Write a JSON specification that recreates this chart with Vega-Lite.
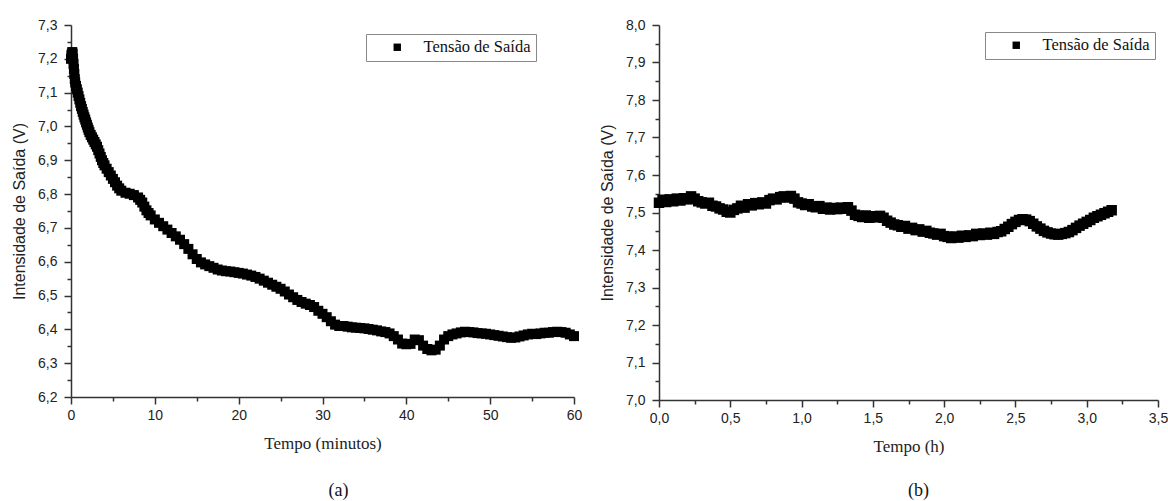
{
  "$schema": "https://vega.github.io/schema/vega-lite/v6.json",
  "padding": {"left": 11, "top": 18, "right": 0, "bottom": 0},
  "background": "white",
  "config": {
    "view": {"stroke": null},
    "axis": {
      "grid": false,
      "domainColor": "#333",
      "domainWidth": 1.5,
      "tickColor": "#333",
      "tickWidth": 1.5,
      "labelFont": "Liberation Sans",
      "labelFontSize": 14,
      "labelColor": "#222",
      "labelFlush": false,
      "labelOverlap": false,
      "labelPadding": 7
    },
    "axisY": {"titleFont": "Liberation Sans", "titleFontSize": 16, "titleFontWeight": "normal", "titleColor": "#222", "titlePadding": 10},
    "axisX": {"titleFont": "Liberation Serif", "titleFontSize": 17, "titleFontWeight": "normal", "titleColor": "#222", "titlePadding": 13, "labelPadding": 4},
    "legend": {
      "orient": "none",
      "title": null,
      "strokeColor": "#888",
      "strokeWidth": 1,
      "padding": 5,
      "symbolType": "square",
      "symbolSize": 55,
      "symbolOffset": 18,
      "labelOffset": 18,
      "labelFont": "Liberation Serif",
      "labelFontSize": 16.5,
      "labelColor": "#111",
      "labelExpr": "datum.label + '\u00a0\u00a0\u00a0'",
      "fillColor": "white"
    }
  },
  "datasets": {
    "a": [
      {"t": 0.0, "v": 7.2}, {"t": 0.05, "v": 7.21}, {"t": 0.1, "v": 7.215}, {"t": 0.15, "v": 7.22}, {"t": 0.2, "v": 7.215},
      {"t": 0.25, "v": 7.2}, {"t": 0.3, "v": 7.185}, {"t": 0.35, "v": 7.17}, {"t": 0.4, "v": 7.155}, {"t": 0.45, "v": 7.14},
      {"t": 0.5, "v": 7.13}, {"t": 0.6, "v": 7.12}, {"t": 0.7, "v": 7.11}, {"t": 0.8, "v": 7.1}, {"t": 0.9, "v": 7.09},
      {"t": 1.0, "v": 7.08}, {"t": 1.1, "v": 7.07}, {"t": 1.2, "v": 7.06}, {"t": 1.3, "v": 7.052}, {"t": 1.4, "v": 7.043},
      {"t": 1.5, "v": 7.035}, {"t": 1.6, "v": 7.027}, {"t": 1.7, "v": 7.02}, {"t": 1.8, "v": 7.012}, {"t": 1.9, "v": 7.005},
      {"t": 2.0, "v": 6.997}, {"t": 2.1, "v": 6.99}, {"t": 2.2, "v": 6.983}, {"t": 2.35, "v": 6.975}, {"t": 2.5, "v": 6.968},
      {"t": 2.65, "v": 6.961}, {"t": 2.8, "v": 6.954}, {"t": 2.95, "v": 6.947}, {"t": 3.1, "v": 6.94}, {"t": 3.25, "v": 6.93},
      {"t": 3.4, "v": 6.92}, {"t": 3.55, "v": 6.91}, {"t": 3.7, "v": 6.9}, {"t": 3.85, "v": 6.892}, {"t": 4.0, "v": 6.885},
      {"t": 4.25, "v": 6.875}, {"t": 4.5, "v": 6.865}, {"t": 4.75, "v": 6.855}, {"t": 5.0, "v": 6.845}, {"t": 5.25, "v": 6.835},
      {"t": 5.5, "v": 6.825}, {"t": 5.75, "v": 6.817}, {"t": 6.0, "v": 6.81}, {"t": 6.5, "v": 6.804}, {"t": 7.0, "v": 6.801},
      {"t": 7.5, "v": 6.797}, {"t": 8.0, "v": 6.79}, {"t": 8.25, "v": 6.783}, {"t": 8.5, "v": 6.775}, {"t": 8.75, "v": 6.763},
      {"t": 9.0, "v": 6.752}, {"t": 9.25, "v": 6.744}, {"t": 9.5, "v": 6.737}, {"t": 10.0, "v": 6.725}, {"t": 10.5, "v": 6.715},
      {"t": 11.0, "v": 6.705}, {"t": 11.5, "v": 6.695}, {"t": 12.0, "v": 6.685}, {"t": 12.5, "v": 6.675}, {"t": 13.0, "v": 6.665},
      {"t": 13.5, "v": 6.652}, {"t": 14.0, "v": 6.638}, {"t": 14.5, "v": 6.622}, {"t": 15.0, "v": 6.608}, {"t": 15.5, "v": 6.598},
      {"t": 16.0, "v": 6.592}, {"t": 16.5, "v": 6.587}, {"t": 17.0, "v": 6.582}, {"t": 17.5, "v": 6.577}, {"t": 18.0, "v": 6.574},
      {"t": 18.5, "v": 6.572}, {"t": 19.0, "v": 6.571}, {"t": 19.5, "v": 6.569}, {"t": 20.0, "v": 6.567}, {"t": 20.5, "v": 6.565},
      {"t": 21.0, "v": 6.562}, {"t": 21.5, "v": 6.559}, {"t": 22.0, "v": 6.555}, {"t": 22.5, "v": 6.55}, {"t": 23.0, "v": 6.544},
      {"t": 23.5, "v": 6.538}, {"t": 24.0, "v": 6.532}, {"t": 24.5, "v": 6.526}, {"t": 25.0, "v": 6.52}, {"t": 25.5, "v": 6.512},
      {"t": 26.0, "v": 6.503}, {"t": 26.5, "v": 6.495}, {"t": 27.0, "v": 6.487}, {"t": 27.5, "v": 6.481}, {"t": 28.0, "v": 6.476},
      {"t": 28.5, "v": 6.472}, {"t": 29.0, "v": 6.466}, {"t": 29.5, "v": 6.455}, {"t": 30.0, "v": 6.446}, {"t": 30.5, "v": 6.436},
      {"t": 31.0, "v": 6.424}, {"t": 31.5, "v": 6.414}, {"t": 32.0, "v": 6.41}, {"t": 32.5, "v": 6.41}, {"t": 33.0, "v": 6.408},
      {"t": 33.5, "v": 6.406}, {"t": 34.0, "v": 6.405}, {"t": 34.5, "v": 6.404}, {"t": 35.0, "v": 6.403}, {"t": 35.5, "v": 6.401},
      {"t": 36.0, "v": 6.399}, {"t": 36.5, "v": 6.397}, {"t": 37.0, "v": 6.394}, {"t": 37.5, "v": 6.392}, {"t": 38.0, "v": 6.388},
      {"t": 38.5, "v": 6.38}, {"t": 39.0, "v": 6.37}, {"t": 39.5, "v": 6.358}, {"t": 40.0, "v": 6.356}, {"t": 40.5, "v": 6.357},
      {"t": 41.0, "v": 6.37}, {"t": 41.5, "v": 6.368}, {"t": 42.0, "v": 6.352}, {"t": 42.5, "v": 6.342}, {"t": 43.0, "v": 6.338},
      {"t": 43.5, "v": 6.34}, {"t": 44.0, "v": 6.352}, {"t": 44.5, "v": 6.37}, {"t": 45.0, "v": 6.38}, {"t": 45.5, "v": 6.385},
      {"t": 46.0, "v": 6.388}, {"t": 46.5, "v": 6.391}, {"t": 47.0, "v": 6.393}, {"t": 47.5, "v": 6.392}, {"t": 48.0, "v": 6.391},
      {"t": 48.5, "v": 6.389}, {"t": 49.0, "v": 6.388}, {"t": 49.5, "v": 6.387}, {"t": 50.0, "v": 6.385}, {"t": 50.5, "v": 6.383},
      {"t": 51.0, "v": 6.381}, {"t": 51.5, "v": 6.379}, {"t": 52.0, "v": 6.377}, {"t": 52.5, "v": 6.375}, {"t": 53.0, "v": 6.376},
      {"t": 53.5, "v": 6.379}, {"t": 54.0, "v": 6.382}, {"t": 54.5, "v": 6.385}, {"t": 55.0, "v": 6.387}, {"t": 55.5, "v": 6.386},
      {"t": 56.0, "v": 6.388}, {"t": 56.5, "v": 6.39}, {"t": 57.0, "v": 6.39}, {"t": 57.5, "v": 6.392}, {"t": 58.0, "v": 6.393},
      {"t": 58.5, "v": 6.392}, {"t": 59.0, "v": 6.39}, {"t": 59.5, "v": 6.385}, {"t": 60.0, "v": 6.38}
    ],
    "b": [
      {"t": 0.0, "v": 7.526}, {"t": 0.025, "v": 7.534}, {"t": 0.05, "v": 7.528}, {"t": 0.075, "v": 7.535}, {"t": 0.1, "v": 7.53},
      {"t": 0.125, "v": 7.537}, {"t": 0.15, "v": 7.532}, {"t": 0.175, "v": 7.538}, {"t": 0.2, "v": 7.535}, {"t": 0.225, "v": 7.543},
      {"t": 0.25, "v": 7.537}, {"t": 0.275, "v": 7.53}, {"t": 0.3, "v": 7.527}, {"t": 0.325, "v": 7.524}, {"t": 0.35, "v": 7.526},
      {"t": 0.375, "v": 7.518}, {"t": 0.4, "v": 7.516}, {"t": 0.425, "v": 7.511}, {"t": 0.45, "v": 7.508}, {"t": 0.475, "v": 7.502},
      {"t": 0.5, "v": 7.5}, {"t": 0.525, "v": 7.507}, {"t": 0.55, "v": 7.511}, {"t": 0.575, "v": 7.518}, {"t": 0.6, "v": 7.513},
      {"t": 0.625, "v": 7.522}, {"t": 0.65, "v": 7.519}, {"t": 0.675, "v": 7.525}, {"t": 0.7, "v": 7.522}, {"t": 0.725, "v": 7.527},
      {"t": 0.75, "v": 7.524}, {"t": 0.775, "v": 7.533}, {"t": 0.8, "v": 7.537}, {"t": 0.825, "v": 7.535}, {"t": 0.85, "v": 7.541},
      {"t": 0.875, "v": 7.543}, {"t": 0.9, "v": 7.54}, {"t": 0.925, "v": 7.544}, {"t": 0.95, "v": 7.537}, {"t": 0.975, "v": 7.527},
      {"t": 1.0, "v": 7.524}, {"t": 1.025, "v": 7.52}, {"t": 1.05, "v": 7.522}, {"t": 1.075, "v": 7.516}, {"t": 1.1, "v": 7.514},
      {"t": 1.125, "v": 7.517}, {"t": 1.15, "v": 7.51}, {"t": 1.175, "v": 7.513}, {"t": 1.2, "v": 7.508}, {"t": 1.225, "v": 7.512},
      {"t": 1.25, "v": 7.509}, {"t": 1.275, "v": 7.513}, {"t": 1.3, "v": 7.51}, {"t": 1.325, "v": 7.514}, {"t": 1.35, "v": 7.505},
      {"t": 1.375, "v": 7.494}, {"t": 1.4, "v": 7.491}, {"t": 1.425, "v": 7.488}, {"t": 1.45, "v": 7.492}, {"t": 1.475, "v": 7.486},
      {"t": 1.5, "v": 7.49}, {"t": 1.525, "v": 7.487}, {"t": 1.55, "v": 7.491}, {"t": 1.575, "v": 7.486}, {"t": 1.6, "v": 7.478},
      {"t": 1.625, "v": 7.473}, {"t": 1.65, "v": 7.468}, {"t": 1.675, "v": 7.466}, {"t": 1.7, "v": 7.462}, {"t": 1.725, "v": 7.464},
      {"t": 1.75, "v": 7.457}, {"t": 1.775, "v": 7.459}, {"t": 1.8, "v": 7.453}, {"t": 1.825, "v": 7.455}, {"t": 1.85, "v": 7.449},
      {"t": 1.875, "v": 7.451}, {"t": 1.9, "v": 7.446}, {"t": 1.925, "v": 7.444}, {"t": 1.95, "v": 7.441}, {"t": 1.975, "v": 7.443},
      {"t": 2.0, "v": 7.437}, {"t": 2.025, "v": 7.435}, {"t": 2.05, "v": 7.432}, {"t": 2.075, "v": 7.436}, {"t": 2.1, "v": 7.433},
      {"t": 2.125, "v": 7.438}, {"t": 2.15, "v": 7.435}, {"t": 2.175, "v": 7.439}, {"t": 2.2, "v": 7.437}, {"t": 2.225, "v": 7.443},
      {"t": 2.25, "v": 7.44}, {"t": 2.275, "v": 7.444}, {"t": 2.3, "v": 7.441}, {"t": 2.325, "v": 7.446}, {"t": 2.35, "v": 7.443},
      {"t": 2.375, "v": 7.448}, {"t": 2.4, "v": 7.45}, {"t": 2.425, "v": 7.456}, {"t": 2.45, "v": 7.462}, {"t": 2.475, "v": 7.469},
      {"t": 2.5, "v": 7.475}, {"t": 2.525, "v": 7.48}, {"t": 2.55, "v": 7.482}, {"t": 2.575, "v": 7.481}, {"t": 2.6, "v": 7.477},
      {"t": 2.625, "v": 7.47}, {"t": 2.65, "v": 7.463}, {"t": 2.675, "v": 7.457}, {"t": 2.7, "v": 7.451}, {"t": 2.725, "v": 7.447},
      {"t": 2.75, "v": 7.444}, {"t": 2.775, "v": 7.442}, {"t": 2.8, "v": 7.441}, {"t": 2.825, "v": 7.443}, {"t": 2.85, "v": 7.445},
      {"t": 2.875, "v": 7.448}, {"t": 2.9, "v": 7.453}, {"t": 2.925, "v": 7.459}, {"t": 2.95, "v": 7.465}, {"t": 2.975, "v": 7.47},
      {"t": 3.0, "v": 7.475}, {"t": 3.025, "v": 7.48}, {"t": 3.05, "v": 7.486}, {"t": 3.075, "v": 7.49}, {"t": 3.1, "v": 7.494},
      {"t": 3.125, "v": 7.498}, {"t": 3.15, "v": 7.502}, {"t": 3.175, "v": 7.506}
    ]
  },
  "hconcat": [
    {
      "width": 503,
      "height": 372,
      "data": {"name": "a"},
      "transform": [{"calculate": "'Tensão de Saída'", "as": "serie"}],
      "title": {"text": "(a)", "orient": "bottom", "frame": "group", "anchor": "middle", "dx": 16, "offset": 31, "font": "Liberation Serif", "fontSize": 18, "fontWeight": "normal", "color": "#111"},
      "mark": {"type": "point", "shape": "square", "filled": true, "size": 100, "opacity": 1},
      "encoding": {
        "x": {
          "field": "t", "type": "quantitative", "title": "Tempo (minutos)",
          "scale": {"domain": [0, 60], "nice": false, "zero": false},
          "axis": {
            "values": [0, 5, 10, 15, 20, 25, 30, 35, 40, 45, 50, 55, 60],
            "labelExpr": "datum.value % 10 === 0 ? datum.label : ''",
            "tickSize": {"condition": {"test": "datum.value % 10 === 0", "value": 7}, "value": 4}
          }
        },
        "y": {
          "field": "v", "type": "quantitative", "title": "Intensidade de Saída (V)",
          "scale": {"domain": [6.2, 7.3], "nice": false, "zero": false},
          "axis": {
            "values": [6.2, 6.25, 6.3, 6.35, 6.4, 6.45, 6.5, 6.55, 6.6, 6.65, 6.7, 6.75, 6.8, 6.85, 6.9, 6.95, 7.0, 7.05, 7.1, 7.15, 7.2, 7.25, 7.3],
            "labelExpr": "abs(datum.value*10 - round(datum.value*10)) < 0.001 ? replace(format(datum.value, '.1f'), '.', ',') : ''",
            "tickSize": {"condition": {"test": "abs(datum.value*10 - round(datum.value*10)) < 0.001", "value": 7}, "value": 4}
          }
        },
        "color": {
          "field": "serie", "type": "nominal",
          "scale": {"range": ["black"]},
          "legend": {"legendX": 295, "legendY": 9}
        }
      }
    },
    {
      "width": 499,
      "height": 375,
      "data": {"name": "b"},
      "transform": [{"calculate": "'Tensão de Saída'", "as": "serie"}],
      "title": {"text": "(b)", "orient": "bottom", "frame": "group", "anchor": "middle", "dx": 10, "offset": 28, "font": "Liberation Serif", "fontSize": 18, "fontWeight": "normal", "color": "#111"},
      "mark": {"type": "point", "shape": "square", "filled": true, "size": 110, "opacity": 1},
      "encoding": {
        "x": {
          "field": "t", "type": "quantitative", "title": "Tempo (h)",
          "scale": {"domain": [0, 3.5], "nice": false, "zero": false},
          "axis": {
            "values": [0, 0.25, 0.5, 0.75, 1.0, 1.25, 1.5, 1.75, 2.0, 2.25, 2.5, 2.75, 3.0, 3.25, 3.5],
            "labelExpr": "abs(datum.value*2 - round(datum.value*2)) < 0.001 ? replace(format(datum.value, '.1f'), '.', ',') : ''",
            "tickSize": {"condition": {"test": "abs(datum.value*2 - round(datum.value*2)) < 0.001", "value": 7}, "value": 4}
          }
        },
        "y": {
          "field": "v", "type": "quantitative", "title": "Intensidade de Saída (V)",
          "scale": {"domain": [7.0, 8.0], "nice": false, "zero": false},
          "axis": {
            "values": [7.0, 7.05, 7.1, 7.15, 7.2, 7.25, 7.3, 7.35, 7.4, 7.45, 7.5, 7.55, 7.6, 7.65, 7.7, 7.75, 7.8, 7.85, 7.9, 7.95, 8.0],
            "labelExpr": "abs(datum.value*10 - round(datum.value*10)) < 0.001 ? replace(format(datum.value, '.1f'), '.', ',') : ''",
            "tickSize": {"condition": {"test": "abs(datum.value*10 - round(datum.value*10)) < 0.001", "value": 7}, "value": 4}
          }
        },
        "color": {
          "field": "serie", "type": "nominal",
          "scale": {"range": ["black"]},
          "legend": {"legendX": 326, "legendY": 7}
        }
      }
    }
  ],
  "spacing": 17,
  "resolve": {"scale": {"color": "independent"}, "legend": {"color": "independent"}}
}
